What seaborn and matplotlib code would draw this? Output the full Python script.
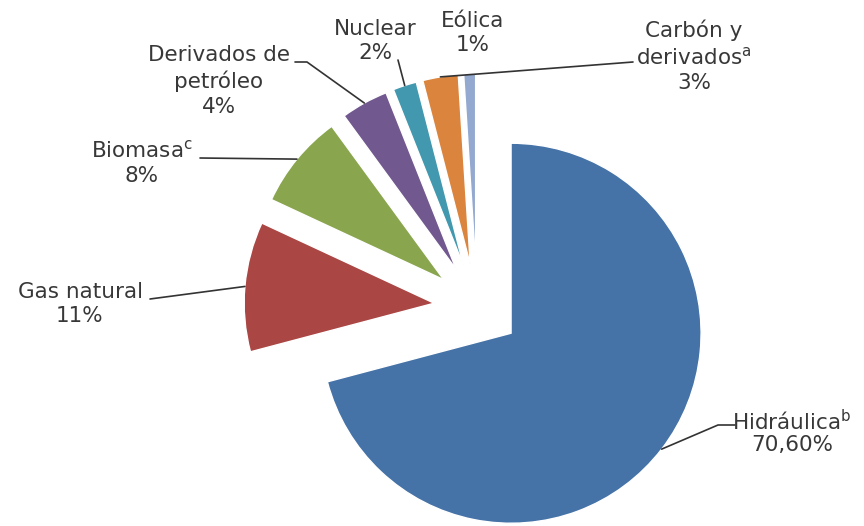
import numpy as np
import matplotlib
matplotlib.use("Agg")
import matplotlib.pyplot as plt
import seaborn as sns

# Datos: participación por fuente
fuentes = ["Hidráulica$^{\\mathregular{b}}$", "Gas natural", "Biomasa$^{\\mathregular{c}}$",
           "Derivados de\npetróleo", "Nuclear", "Carbón y\nderivados$^{\\mathregular{a}}$", "Eólica"]
valores = [70.6, 11, 8, 4, 2, 3, 1]
etiquetas_pct = ["70,60%", "11%", "8%", "4%", "2%", "3%", "1%"]
colores = ["#4572A7", "#AA4643", "#89A54E", "#71588F", "#4198AF", "#DB843D", "#93A9CF"]

sns.set_theme(style="white")
plt.rcParams["font.family"] = ["DejaVu Sans"]

W, H = 864, 526
fig = plt.figure(figsize=(W / 100, H / 100), dpi=100)
ax = fig.add_axes([0, 0, 1, 1])


def img(x, y):
    # coordenadas de la imagen (y hacia abajo) -> datos
    return x, H - y


radio = 190
wedges, _ = ax.pie(valores, colors=colores, startangle=90, counterclock=False,
                   center=img(477, 307), radius=radio, explode=[43] * len(valores),
                   wedgeprops=dict(edgecolor="white", linewidth=1), frame=True)
ax.set_xlim(0, W)
ax.set_ylim(0, H)
ax.set_aspect("equal")
ax.axis("off")

# posición del bloque de texto y trazo de la línea guía (en px de imagen)
pos_texto = [(792, 432), (80, 304), (142, 163), (219, 81), (375, 41), (694, 56), (473, 33)]
interlineado = [1.1, 1.3, 1.3, 1.3, 1.3, 1.3, 1.3]
guias = [[(735, 425), (718, 425)], [(150, 299)], [(200, 158)],
         [(295, 62), (307, 62)], [(398, 60)], [(633, 62)], None]

color_txt = "#383838"
for w, nombre, pct, (tx, ty), ls, guia in zip(wedges, fuentes, etiquetas_pct, pos_texto,
                                              interlineado, guias):
    ax.text(*img(tx, ty), f"{nombre}\n{pct}", ha="center", va="center",
            multialignment="center", fontsize=15.5, color=color_txt, linespacing=ls)
    if guia is None:
        continue
    tm = np.deg2rad((w.theta1 + w.theta2) / 2)
    cx, cy = w.center
    fin = (cx + w.r * np.cos(tm), cy + w.r * np.sin(tm))
    pts = [img(x, y) for x, y in guia] + [fin]
    xs, ys = zip(*pts)
    ax.plot(xs, ys, color="#333333", linewidth=1.2)

fig.savefig("out.png", dpi=100, facecolor="white")
